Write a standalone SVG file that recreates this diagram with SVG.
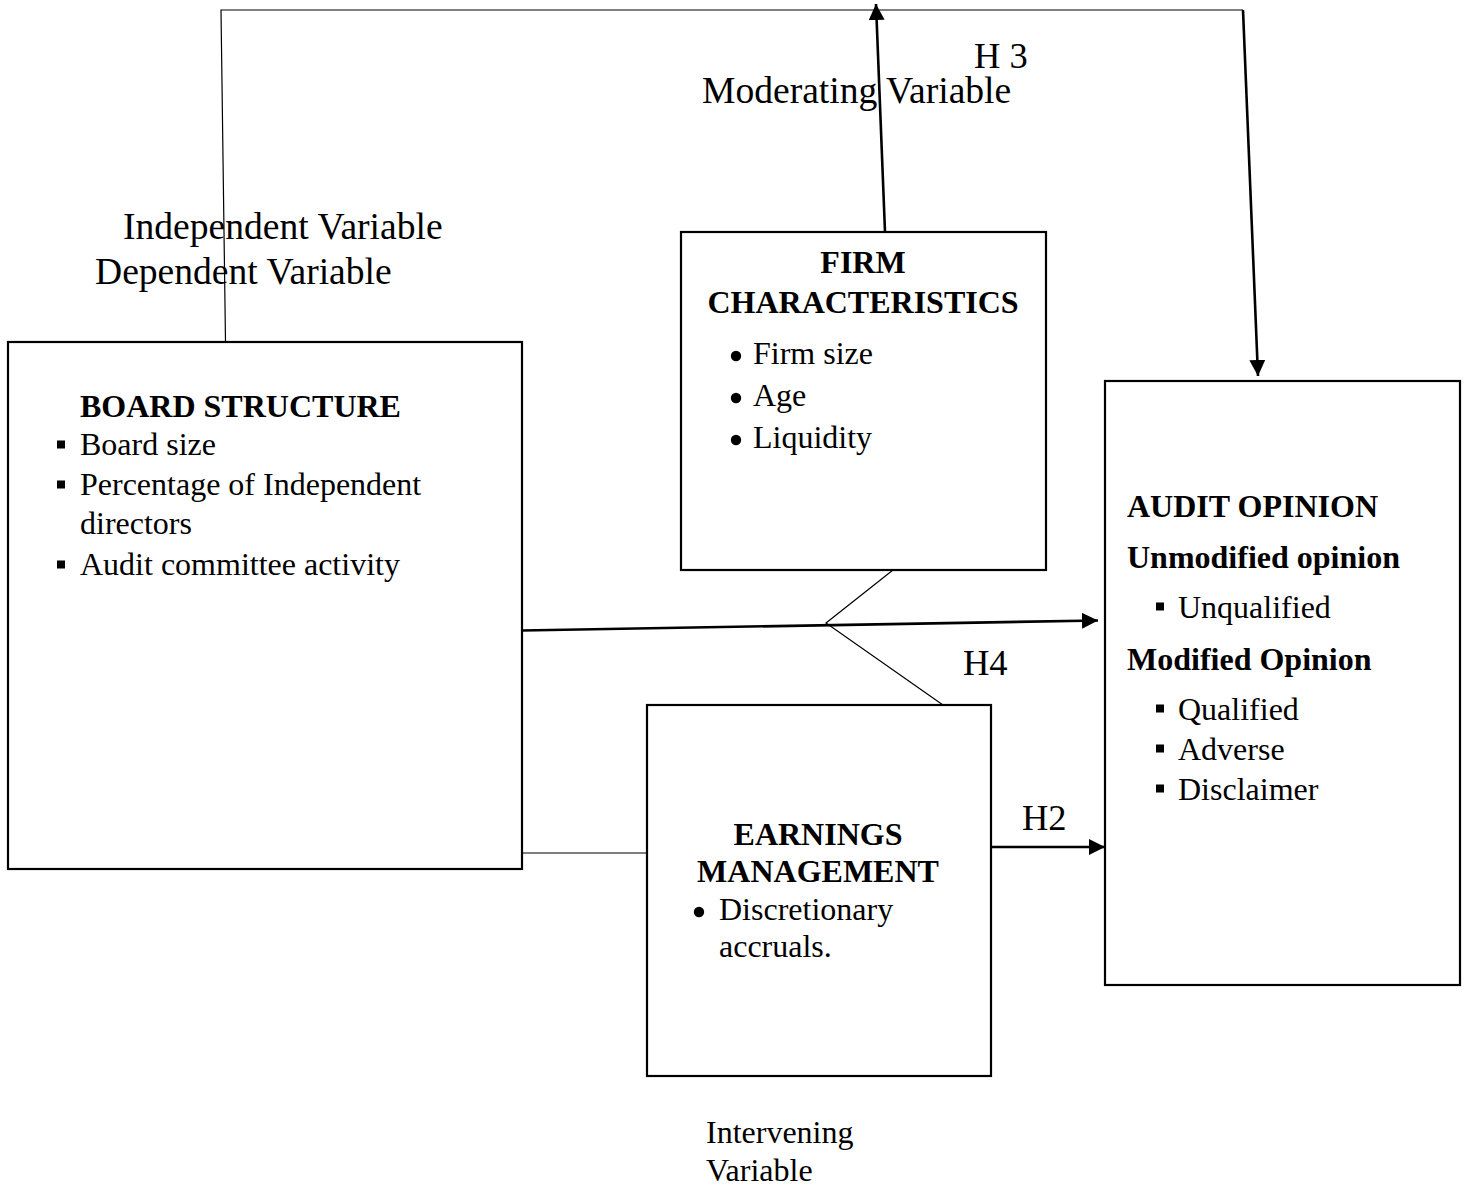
<svg xmlns="http://www.w3.org/2000/svg" width="1468" height="1186" viewBox="0 0 1468 1186">
<defs>
<style>
.box{fill:#fff;stroke:#000;stroke-width:2.2}
.t{font-family:"Liberation Serif","Times New Roman",serif;fill:#000}
.bt{font-size:32px}
.b{font-weight:bold}
.lbl{font-size:37.6px}
.hl{font-size:36.5px}
.thin{stroke:#000;stroke-width:1.2;fill:none}
.thick{stroke:#000;stroke-width:2.6;fill:none}
.sq{fill:#000}
</style>
<marker id="ah" viewBox="0 0 16 16" refX="16" refY="8" markerWidth="16" markerHeight="16" markerUnits="userSpaceOnUse" orient="auto">
<path d="M0,0 L16,8 L0,16 Z" fill="#000"/>
</marker>
</defs>
<rect width="1468" height="1186" fill="#fff"/>

<g id="labels">
<text class="t hl" x="974" y="68">H 3</text>
<text class="t lbl" x="702" y="103">Moderating Variable</text>
<text class="t lbl" x="123" y="239">Independent Variable</text>
<text class="t lbl" x="95" y="284">Dependent Variable</text>
<text class="t hl" x="963" y="675">H4</text>
<text class="t hl" x="1022" y="830">H2</text>
<text class="t bt" x="706" y="1143">Intervening</text>
<text class="t bt" x="706" y="1181">Variable</text>
</g>

<g id="node-board">
<rect class="box" x="8" y="342" width="514" height="527"/>
<text class="t bt b" x="80" y="417">BOARD STRUCTURE</text>
<rect class="sq" x="57" y="440.5" width="8" height="8"/>
<text class="t bt" x="80" y="455">Board size</text>
<rect class="sq" x="57" y="480.5" width="8" height="8"/>
<text class="t bt" x="80" y="495">Percentage of Independent</text>
<text class="t bt" x="80" y="534">directors</text>
<rect class="sq" x="57" y="560.5" width="8" height="8"/>
<text class="t bt" x="80" y="575">Audit committee activity</text>
</g>

<g id="node-firm">
<rect class="box" x="681" y="232" width="365" height="338"/>
<text class="t bt b" x="863" y="273" text-anchor="middle">FIRM</text>
<text class="t bt b" x="863" y="313" text-anchor="middle">CHARACTERISTICS</text>
<circle cx="736" cy="356" r="5.2"/>
<text class="t bt" x="753" y="364">Firm size</text>
<circle cx="736" cy="398" r="5.2"/>
<text class="t bt" x="753" y="406">Age</text>
<circle cx="736" cy="440" r="5.2"/>
<text class="t bt" x="753" y="448">Liquidity</text>
</g>

<g id="node-earnings">
<rect class="box" x="647" y="705" width="344" height="371"/>
<text class="t bt b" x="818" y="845" text-anchor="middle">EARNINGS</text>
<text class="t bt b" x="818" y="882" text-anchor="middle">MANAGEMENT</text>
<circle cx="699" cy="912" r="5.2"/>
<text class="t bt" x="719" y="920">Discretionary</text>
<text class="t bt" x="719" y="957">accruals.</text>
</g>

<g id="node-audit">
<rect class="box" x="1105" y="381" width="355" height="604"/>
<text class="t bt b" x="1127" y="517">AUDIT OPINION</text>
<text class="t bt b" x="1127" y="568">Unmodified opinion</text>
<rect class="sq" x="1156" y="602.5" width="8" height="8"/>
<text class="t bt" x="1178" y="618">Unqualified</text>
<text class="t bt b" x="1127" y="670">Modified Opinion</text>
<rect class="sq" x="1156" y="704.5" width="8" height="8"/>
<text class="t bt" x="1178" y="720">Qualified</text>
<rect class="sq" x="1156" y="744.5" width="8" height="8"/>
<text class="t bt" x="1178" y="760">Adverse</text>
<rect class="sq" x="1156" y="784.5" width="8" height="8"/>
<text class="t bt" x="1178" y="800">Disclaimer</text>
</g>

<g id="connectors">
<polyline class="thin" points="225.5,342 221,10 1243,10"/>
<line class="thick" x1="1243" y1="10" x2="1258" y2="376" marker-end="url(#ah)"/>
<line class="thick" x1="885" y1="232" x2="876" y2="4" marker-end="url(#ah)"/>
<line class="thick" x1="522" y1="630.5" x2="1098" y2="620.5" marker-end="url(#ah)"/>
<polyline class="thin" points="893,570 826,623 943,705"/>
<line class="thin" x1="522" y1="853" x2="647" y2="853"/>
<line class="thick" x1="991" y1="847" x2="1105" y2="847" marker-end="url(#ah)"/>
</g>
</svg>
